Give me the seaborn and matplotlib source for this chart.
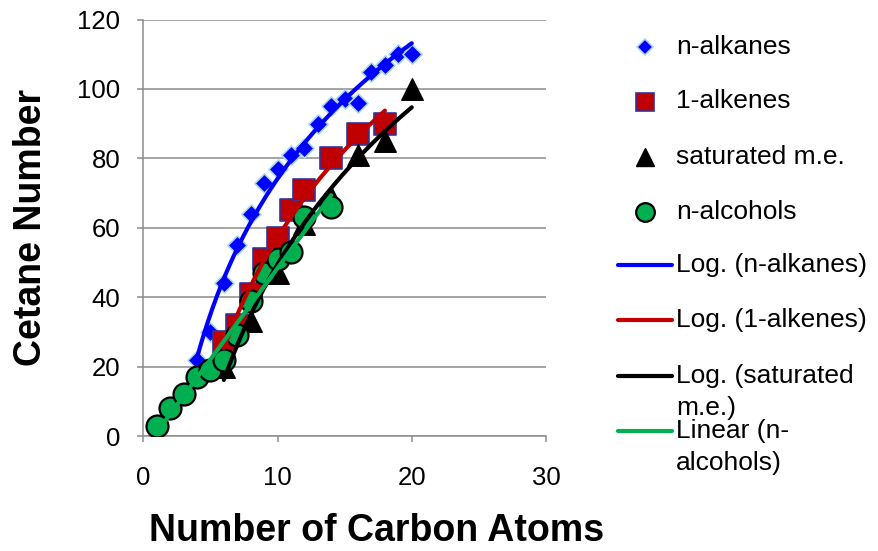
import numpy as np
import pandas as pd
import seaborn as sns
import matplotlib
matplotlib.use("Agg")
import matplotlib.pyplot as plt
from matplotlib.lines import Line2D

# Cetane number versus carbon count for four compound families
alkane_c = [4, 5, 6, 7, 8, 9, 10, 11, 12, 13, 14, 15, 16, 17, 18, 19, 20]
alkane_cn = [22, 30, 44, 55, 64, 73, 77, 81, 83, 90, 95, 97, 96, 105, 107, 110, 110]

alkene_c = [6, 7, 8, 9, 10, 11, 12, 14, 16, 18]
alkene_cn = [27, 32, 41, 51, 57, 65, 71, 80, 87, 90]

ester_c = [6, 8, 10, 12, 14, 16, 18, 20]
ester_cn = [20, 33, 47, 61, 69, 81, 85, 100]

alcohol_c = [1, 2, 3, 4, 5, 6, 7, 8, 9, 10, 11, 12, 14]
alcohol_cn = [3, 8, 12, 17, 19, 22, 29, 39, 47, 51, 53, 63, 66]

x_ticks = [0, 10, 20, 30]
y_ticks = [0, 20, 40, 60, 80, 100, 120]

sns.set_theme(style="white")
plt.rcParams["font.family"] = ["Liberation Sans", "DejaVu Sans"]
plt.rcParams["text.color"] = "black"
plt.rcParams["axes.labelcolor"] = "black"

W, H = 879, 551
fig = plt.figure(figsize=(W / 100, H / 100), dpi=100)
ax = fig.add_axes([143.3 / W, 1 - 436 / H, (546 - 143.3) / W, (436 - 19.5) / H])

GRID = "#8c8c8c"
BLUE, RED, BLACK, GREEN = "#0000ff", "#c00000", "#000000", "#00b050"

series = [
    dict(name="n-alkanes", x=alkane_c, y=alkane_cn, marker="D", s=95,
         color=BLUE, ec="#a8d8ea", lw=1.2, fit="log", fitname="Log. (n-alkanes)"),
    dict(name="1-alkenes", x=alkene_c, y=alkene_cn, marker="s", s=250,
         color=RED, ec="#333399", lw=1.2, fit="log", fitname="Log. (1-alkenes)"),
    dict(name="saturated m.e.", x=ester_c, y=ester_cn, marker="^", s=240,
         color=BLACK, ec=BLACK, lw=1.0, fit="log", fitname="Log. (saturated\nm.e.)"),
    dict(name="n-alcohols", x=alcohol_c, y=alcohol_cn, marker="o", s=250,
         color=GREEN, ec=BLACK, lw=1.6, fit="lin", fitname="Linear (n-\nalcohols)"),
]

for sr in series:
    df = pd.DataFrame({"c": sr["x"], "cn": sr["y"]})
    sns.scatterplot(data=df, x="c", y="cn", marker=sr["marker"], s=sr["s"],
                    color=sr["color"], edgecolor=sr["ec"], linewidth=sr["lw"],
                    ax=ax, zorder=3, legend=False)

# Trendlines fitted over each series' own range
for sr in series:
    xs = np.array(sr["x"], dtype=float)
    ys = np.array(sr["y"], dtype=float)
    xx = np.linspace(xs.min(), xs.max(), 200)
    if sr["fit"] == "log":
        a, b = np.polyfit(np.log(xs), ys, 1)
        yy = a * np.log(xx) + b
    else:
        a, b = np.polyfit(xs, ys, 1)
        yy = a * xx + b
    sns.lineplot(x=xx, y=yy, color=sr["color"], linewidth=3.0, ax=ax,
                 zorder=4, legend=False, solid_capstyle="round")

ax.set_xlim(0, 30)
ax.set_ylim(0, 120)
ax.set_xticks(x_ticks)
ax.set_yticks(y_ticks)
ax.set_xticklabels([str(t) for t in x_ticks])
ax.set_yticklabels([str(t) for t in y_ticks])
ax.yaxis.grid(True, color=GRID, linewidth=1.1)
ax.xaxis.grid(False)
ax.set_axisbelow(True)
for side in ["top", "right"]:
    ax.spines[side].set_visible(False)
for side in ["left", "bottom"]:
    ax.spines[side].set_color(GRID)
    ax.spines[side].set_linewidth(1.1)
ax.tick_params(axis="both", direction="out", length=4.5, width=1.1,
               color=GRID, labelsize=18.5, labelcolor="black")
ax.tick_params(axis="x", pad=17, bottom=True)
ax.tick_params(axis="y", pad=12, left=True)

ax.set_xlabel("Number of Carbon Atoms", fontsize=27, fontweight="bold", color="black")
ax.set_ylabel("Cetane Number", fontsize=27, fontweight="bold", color="black")
ax.xaxis.set_label_coords(0.58, -0.185)
ax.yaxis.set_label_coords(-0.235, 0.5)


def fx(px):
    return px / W


def fy(py):
    return 1 - py / H


# Legend drawn to the right of the plot
entry_y = [47, 101.5, 156.5, 211.5, 265, 320, 376, 431]
for i, sr in enumerate(series):
    y = entry_y[i]
    fig.add_artist(Line2D([fx(645)], [fy(y)], transform=fig.transFigure,
                          marker=sr["marker"], linestyle="none",
                          markersize=np.sqrt(sr["s"]) * 0.85,
                          markerfacecolor=sr["color"], markeredgecolor=sr["ec"],
                          markeredgewidth=sr["lw"]))
    fig.text(fx(676), fy(y), sr["name"], fontsize=19, va="center", ha="left")
for i, sr in enumerate(series):
    y = entry_y[4 + i]
    fig.add_artist(Line2D([fx(618), fx(672)], [fy(y), fy(y)],
                          transform=fig.transFigure, color=sr["color"],
                          linewidth=3.0, solid_capstyle="round"))
    lines = sr["fitname"].split("\n")
    fig.text(fx(676), fy(y), lines[0], fontsize=19, va="center", ha="left")
    if len(lines) > 1:
        fig.text(fx(676), fy(y + 32), lines[1], fontsize=19, va="center", ha="left")

fig.savefig("out.png", dpi=100)
